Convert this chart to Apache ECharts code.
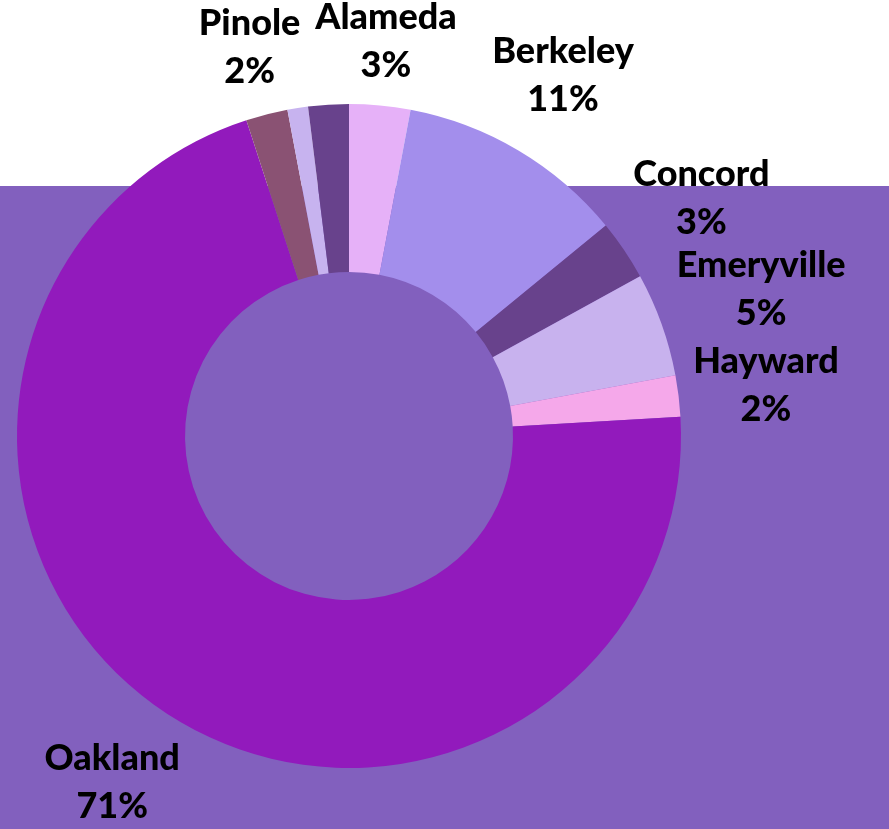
<!DOCTYPE html>
<html>
<head>
<meta charset="utf-8">
<script src="https://cdn.jsdelivr.net/npm/echarts@6/dist/echarts.min.js"></script>
<style>
html,body{margin:0;padding:0;background:#ffffff;}
#chart{width:889px;height:829px;}
</style>
</head>
<body>
<div id="chart"></div>
<script>
const categories = ['Alameda', 'Berkeley', 'Concord', 'Emeryville', 'Hayward', 'Oakland', 'Pinole', 'Other A', 'Other B'];
const values = [2.97, 11.1, 2.94, 5.06, 2.0, 70.9, 2.03, 1.0, 1.97];
const showLabel = [true, true, true, true, true, true, true, false, false];
const colors = ['#E6B1F8', '#A38EEC', '#68428C', '#C8B2EE', '#F5A8EA', '#921ABC', '#8A5273', '#C7B3EF', '#68428C'];

const CX = 349, CY = 436, R_IN = 164, R_OUT = 332, GAP = 10;
const total = values.reduce((a, b) => a + b, 0);
const midAngles = [];
let acc = 0;
values.forEach(v => { midAngles.push((acc + v / 2) / total * 2 * Math.PI); acc += v; });

const chart = echarts.init(document.getElementById('chart'), null, {renderer: 'canvas'});
chart.setOption({
  backgroundColor: '#ffffff',
  animation: false,
  graphic: [{
    type: 'rect', z: -10, silent: true,
    shape: {x: 0, y: 186, width: 889, height: 643},
    style: {fill: '#8260BE'}
  }],
  series: [{
    type: 'pie',
    center: [CX, CY],
    radius: [R_IN, R_OUT],
    startAngle: 90,
    clockwise: true,
    avoidLabelOverlap: false,
    data: categories.map((c, i) => ({
      name: c, value: values[i],
      itemStyle: {color: colors[i]},
      label: {show: showLabel[i]}
    })),
    itemStyle: {borderWidth: 0},
    label: {
      position: 'outside',
      formatter: p => p.name + '\n' + Math.round(p.percent) + '%',
      color: '#000000',
      fontFamily: 'Lato',
      fontWeight: 900,
      fontSize: 36,
      lineHeight: 48,
      align: 'center'
    },
    labelLine: {show: false},
    labelLayout: function (p) {
      const a = midAngles[p.dataIndex];
      const w = p.labelRect.width, h = p.labelRect.height;
      const d = R_OUT + GAP + Math.abs(Math.sin(a)) * w / 2 + Math.abs(Math.cos(a)) * h / 2;
      return {
        x: CX + d * Math.sin(a),
        y: CY - d * Math.cos(a),
        align: 'center',
        verticalAlign: 'middle',
        hideOverlap: false
      };
    },
    emphasis: {disabled: true}
  }]
});
</script>
</body>
</html>
